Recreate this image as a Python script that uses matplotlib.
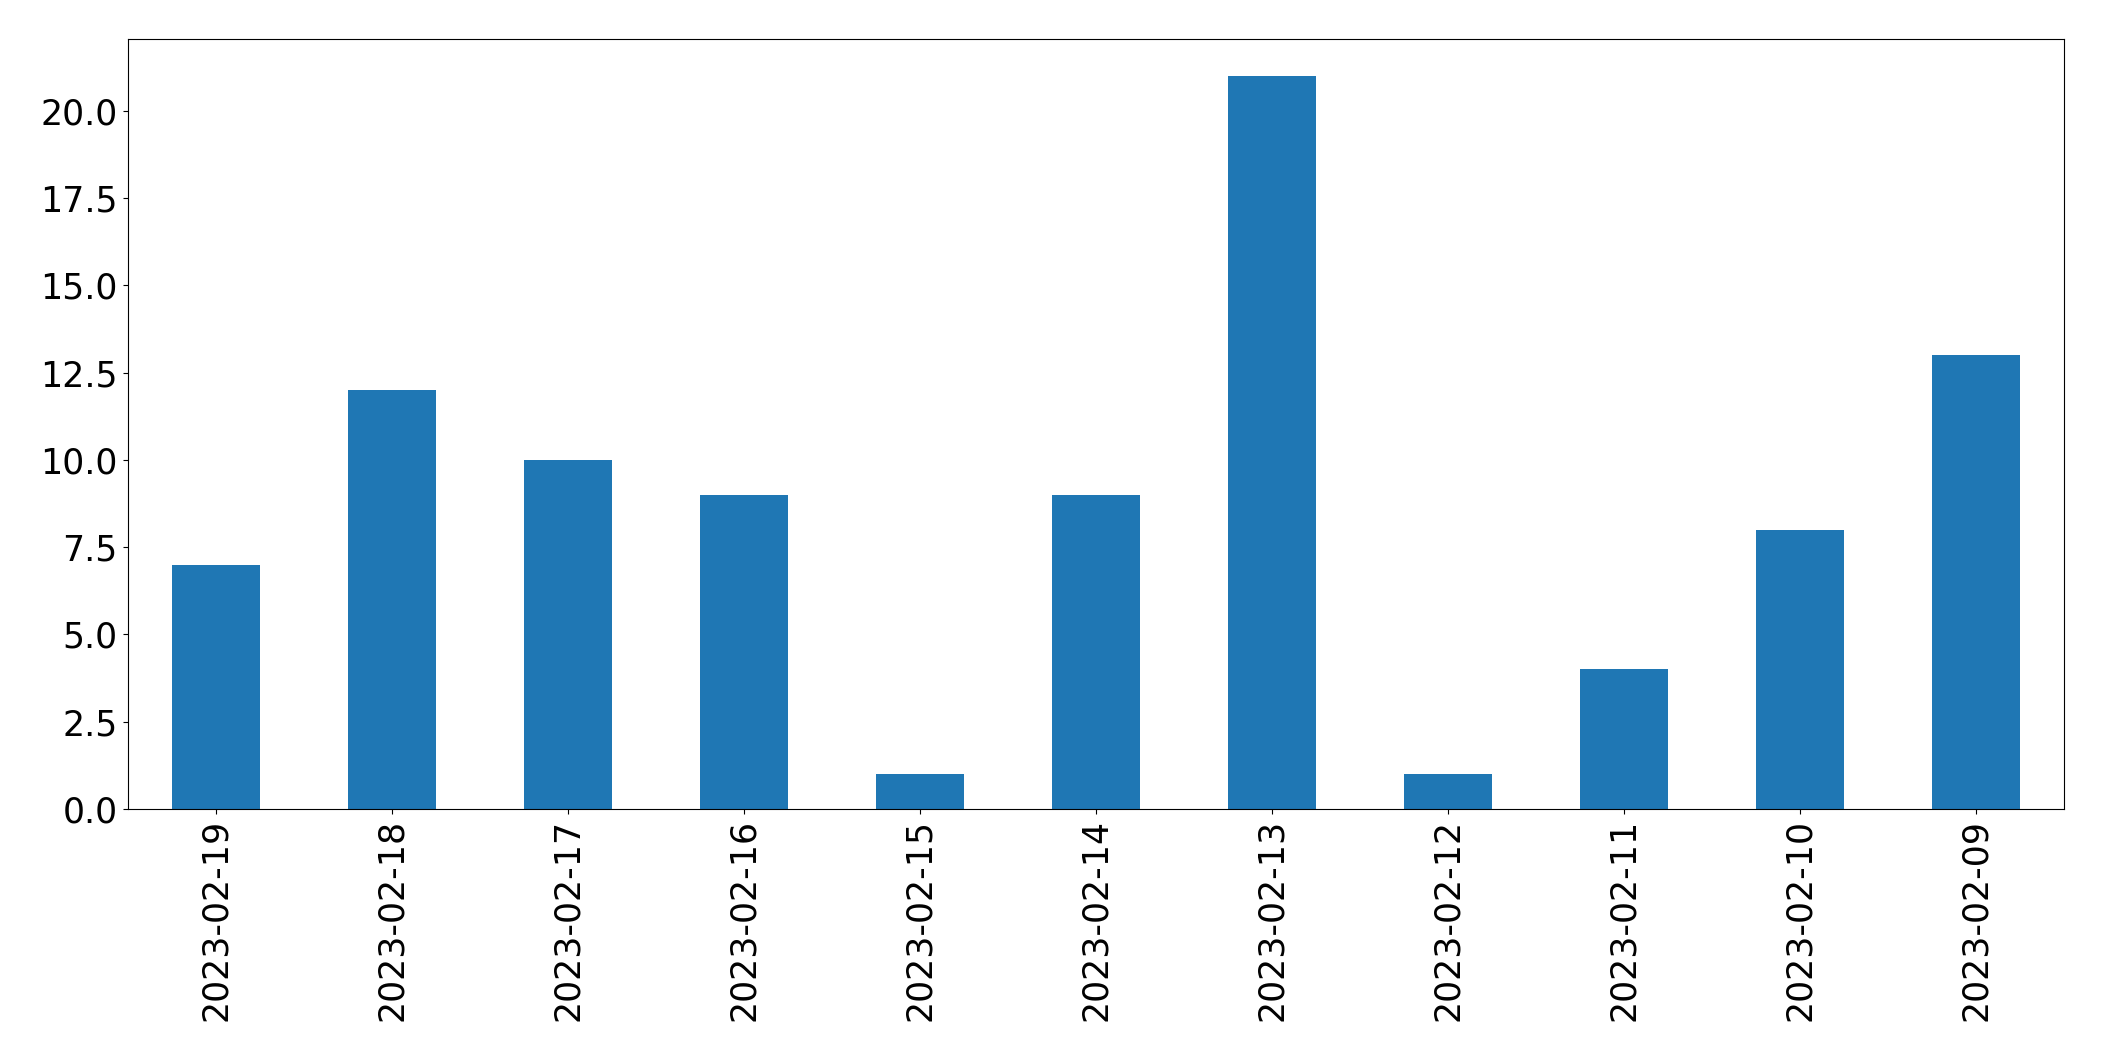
import matplotlib
matplotlib.use("Agg")
import matplotlib.pyplot as plt
import numpy as np

dates = ["2023-02-19", "2023-02-18", "2023-02-17", "2023-02-16", "2023-02-15",
         "2023-02-14", "2023-02-13", "2023-02-12", "2023-02-11", "2023-02-10",
         "2023-02-09"]
counts = [7, 12, 10, 9, 1, 9, 21, 1, 4, 8, 13]

fig = plt.figure(figsize=(21.04, 10.61), dpi=100)
ax = fig.add_axes([0.0606, 0.2375, 0.9204, 0.7255])

x = np.arange(len(dates))
ax.bar(x, counts, width=0.5, color="#1f77b4", linewidth=0)
ax.set_xticks(x)
ax.set_xticklabels(dates, rotation=90)
ax.set_xlim(-0.5, len(dates) - 0.5)
ax.set_ylim(0, 22.05)
ax.set_yticks(np.arange(0, 22.5, 2.5))
ax.tick_params(labelsize=25)

fig.savefig("out.png", dpi=100)
